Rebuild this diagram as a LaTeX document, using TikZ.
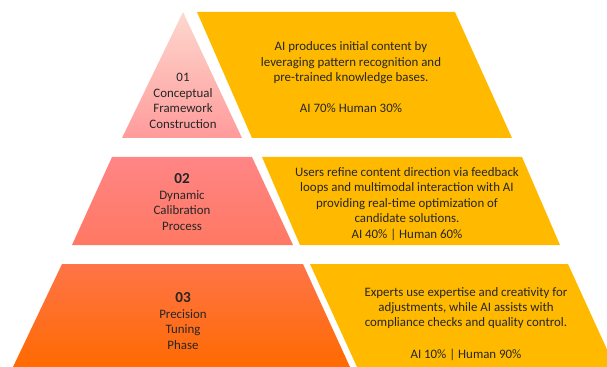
\documentclass[tikz,border=0pt]{standalone}
\usepackage{fontspec}
\setmainfont{Carlito}

\definecolor{amber}{HTML}{FFBA00}
\definecolor{inkgray}{HTML}{262626}
\definecolor{blushtop}{HTML}{FDD8CE}
\definecolor{blushbot}{HTML}{FF9B9B}
\definecolor{coraltop}{HTML}{FF8586}
\definecolor{coralbot}{HTML}{FF7862}
\definecolor{flametop}{HTML}{FF7448}
\definecolor{flamebot}{HTML}{FF6A00}

\begin{document}
\begin{tikzpicture}[x=0.03cm, y=-0.03cm, every node/.style={text=inkgray, align=center, font=\fontsize{11}{13.2}\selectfont}]
    \tikzstyle{band} = [fill=amber]
    \tikzstyle{stage} = [font=\fontsize{11}{13.2}\selectfont]
    \tikzstyle{note} = [font=\fontsize{11}{13.2}\selectfont]
    \useasboundingbox (0,0) rectangle (607,367);

    % tier 1: apex of the pyramid
    \path [top color=blushtop, bottom color=blushbot] (183,12) -- (242,138) -- (122,138) -- cycle;
    \path [band] (197,12) -- (455,12) -- (512,138) -- (252,138) -- cycle;
    \node (stage1) [stage] at (183,101) {01\\Conceptual\\Framework\\Construction};
    \node (note1) [note] at (351,77) {AI produces initial content by\\leveraging pattern recognition and\\pre-trained knowledge bases.\\[13pt]AI 70\% Human 30\%};

    % tier 2
    \path [top color=coraltop, bottom color=coralbot] (112,157) -- (252,157) -- (293,245) -- (72,245) -- cycle;
    \path [band] (262,157) -- (522,157) -- (560,245) -- (300,245) -- cycle;
    \node (stage2) [stage] at (182,202) {{\fontsize{13}{13.2}\selectfont\bfseries 02}\\Dynamic\\Calibration\\Process};
    \node (note2) [note] at (407,204) {Users refine content direction via feedback\\loops and multimodal interaction with AI\\providing real-time optimization of\\candidate solutions.\\AI 40\% | Human 60\%};

    % tier 3: base, runs off the page
    \path [top color=flametop, bottom color=flamebot] (62,264) -- (303,264) -- (350,367) -- (13,367) -- cycle;
    \path [band] (310,264) -- (568,264) -- (615,367) -- (357,367) -- cycle;
    \node (stage3) [stage] at (183,321) {{\fontsize{13}{13.2}\selectfont\bfseries 03}\\Precision\\Tuning\\Phase};
    \node (note3) [note] at (466,324) {Experts use expertise and creativity for\\adjustments, while AI assists with\\compliance checks and quality control.\\[14pt]AI 10\% | Human 90\%};

\end{tikzpicture}
\end{document}
